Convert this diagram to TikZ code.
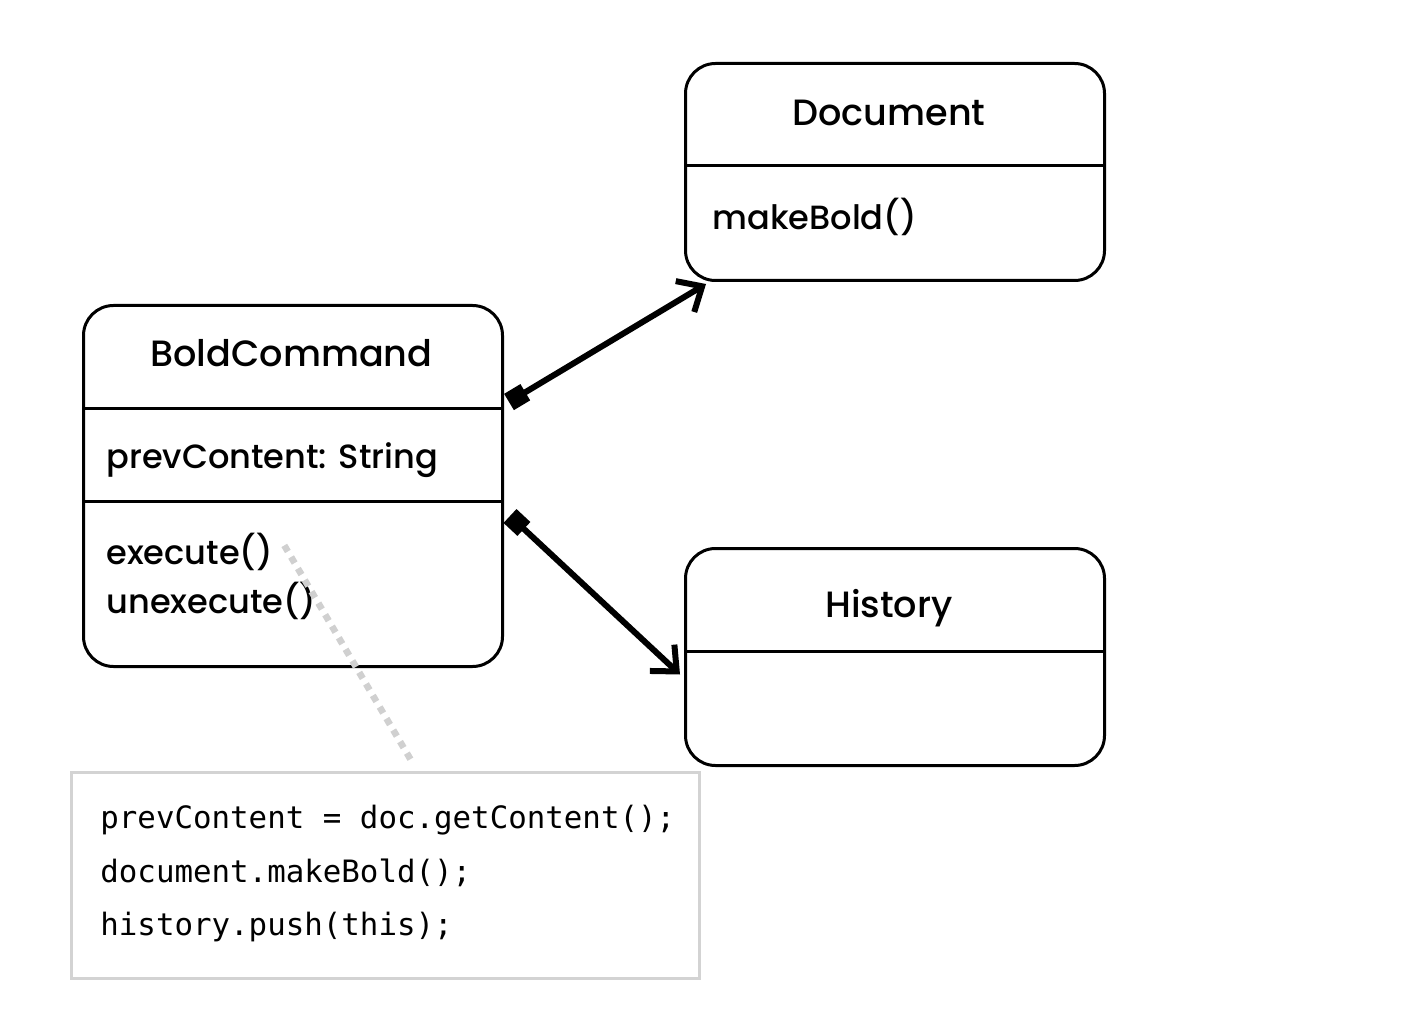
\documentclass[tikz,border=0pt]{standalone}
\usepackage{fontspec}
\setmainfont{Poppins}[UprightFont=* Medium]
\newfontfamily\codefont{DejaVu Sans Mono}
\usetikzlibrary{arrows.meta, positioning, calc}
\definecolor{noteGray}{HTML}{D3D3D3}
\definecolor{dotGray}{HTML}{D0D0D0}

\begin{document}
\begin{tikzpicture}[x=0.5pt, y=-0.5pt,
  classbox/.style={draw, line width=1.5pt, rounded corners=15pt, anchor=north west, minimum width=209.5pt, inner sep=0pt},
  classline/.style={line width=1.5pt},
  classname/.style={anchor=base, inner sep=0pt, font=\fontsize{18.3}{22}\selectfont},
  member/.style={anchor=base west, inner sep=0pt, font=\fontsize{16.8}{20}\selectfont},
  notebox/.style={draw=noteGray, line width=1.5pt, anchor=north west, minimum width=314pt, minimum height=103pt, inner sep=0pt},
  codeline/.style={anchor=base west, inner sep=0pt, font=\codefont\fontsize{15.4}{18}\selectfont},
  hint/.style={draw=dotGray, line width=3.3pt, dash pattern=on 3.5pt off 3.2pt},
  assoc/.style={line width=3pt, {Square[length=9.5pt,width=9.5pt]}-{Straight Barb[length=10pt,width=18pt]}}]
  \useasboundingbox (0,0) rectangle (1406,1015);

  % Document
  \node[classbox, minimum height=108.5pt] (doc) at (684,62) {};
  \draw[classline] ([yshift=-52pt]doc.north west) -- ([yshift=-52pt]doc.north east);
  \node[classname] (docName) at (889,126) {Document};
  \node[member] (docBold) at (712,230) {makeBold()};

  % BoldCommand
  \node[classbox, minimum height=180.5pt] (bc) at (82,304) {};
  \draw[classline] ([yshift=-52.5pt]bc.north west) -- ([yshift=-52.5pt]bc.north east);
  \draw[classline] ([yshift=-98.5pt]bc.north west) -- ([yshift=-98.5pt]bc.north east);
  \node[classname] (bcName) at (291.5,367) {BoldCommand};
  \node[member] (bcPrev) at (106,468) {prevContent: String};
  \node[member] (bcExec) at (106,564) {execute()};
  \node[member] (bcUnexec) at (106,613) {unexecute()};

  % History
  \node[classbox, minimum height=108.5pt] (hist) at (684,547) {};
  \draw[classline] ([yshift=-52pt]hist.north west) -- ([yshift=-52pt]hist.north east);
  \node[classname] (histName) at (889,617) {History};

  % code note
  \node[notebox] (note) at (70,771) {};
  \foreach \txt/\yy [count=\i] in {{prevContent = doc.getContent();}/828, {document.makeBold();}/882, {history.push(this);}/935}
    \node[codeline] (code\i) at (100,\yy) {\txt};

  \draw[assoc] ([xshift=2.5pt,yshift=42pt]bc.east) -- ([xshift=11pt,yshift=-1pt]doc.south west);
  \draw[assoc] ([xshift=3pt,yshift=-15pt]bc.east) -- ([xshift=-2pt,yshift=-8.75pt]hist.west);
  \draw[hint] ([xshift=5.5pt,yshift=3pt]bcExec.east) -- ([xshift=13pt,yshift=5pt]note.north);
\end{tikzpicture}
\end{document}
